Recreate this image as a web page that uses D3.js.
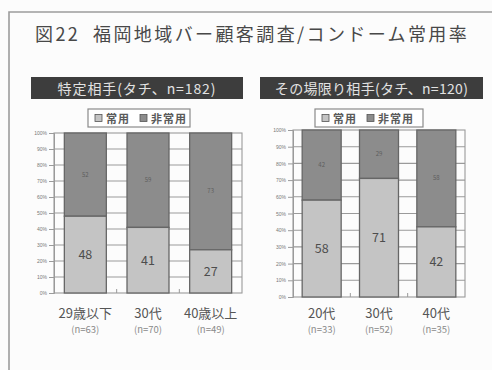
<!DOCTYPE html>
<html>
<head>
<meta charset="utf-8">
<script src="https://cdn.jsdelivr.net/npm/d3@7"></script>
<style>
  html, body { margin: 0; padding: 0; background: #fcfcfc; }
  svg { display: block; font-family: "Noto Sans CJK JP", "Noto Sans", sans-serif; }
</style>
</head>
<body>
<svg id="chart" width="492" height="370"></svg>
<script>
// Survey data: condom use ("常用" = always, "非常用" = not always), percent by age group
const chartTitle = "図22  福岡地域バー顧客調査/コンドーム常用率";
const legendLabels = ["常用", "非常用"];
const yTickValues = [0, 10, 20, 30, 40, 50, 60, 70, 80, 90, 100];
const yTickLabels = ["0%", "10%", "20%", "30%", "40%", "50%", "60%", "70%", "80%", "90%", "100%"];

const leftTitle = "特定相手(タチ、n=182)";
const leftCategories = ["29歳以下", "30代", "40歳以上"];
const leftCounts = ["(n=63)", "(n=70)", "(n=49)"];
const leftRegular = [48, 41, 27];
const leftIrregular = [52, 59, 73];

const rightTitle = "その場限り相手(タチ、n=120)";
const rightCategories = ["20代", "30代", "40代"];
const rightCounts = ["(n=33)", "(n=52)", "(n=35)"];
const rightRegular = [58, 71, 42];
const rightIrregular = [42, 29, 58];

const colors = { regular: "#c4c4c4", irregular: "#8c8c8c", edge: "#666666", grid: "#9a9a9a" };

const svg = d3.select("#chart");

// outer frame (runs off the right and bottom edges)
svg.append("path")
  .attr("d", "M9,380 V12 H500")
  .attr("fill", "none").attr("stroke", "#9c9c9c").attr("stroke-width", 1.6);

svg.append("text")
  .attr("x", 35).attr("y", 41)
  .attr("font-size", 18).attr("letter-spacing", 2.4)
  .attr("fill", "#484848")
  .style("white-space", "pre")
  .text(chartTitle);

function drawPanel(p) {
  const g = svg.append("g");

  // dark header band
  g.append("rect").attr("x", p.headX).attr("y", 77).attr("width", p.headW).attr("height", 22)
    .attr("fill", "#3d3d3d");
  g.append("text").attr("x", p.headX + p.headW / 2).attr("y", 93.5)
    .attr("text-anchor", "middle").attr("font-size", 14).attr("letter-spacing", p.headSpacing)
    .attr("fill", "#e2e2e2").text(p.title);

  // legend box
  const lg = g.append("g").attr("transform", `translate(${p.legX},109)`);
  lg.append("rect").attr("width", p.legW).attr("height", 18)
    .attr("fill", "#ffffff").attr("stroke", "#8a8a8a").attr("stroke-width", 1.2);
  const entries = [
    { label: legendLabels[0], fill: colors.regular },
    { label: legendLabels[1], fill: colors.irregular }
  ];
  let lx = 7;
  entries.forEach((e) => {
    lg.append("rect").attr("x", lx).attr("y", 5.5).attr("width", 7).attr("height", 7)
      .attr("fill", e.fill).attr("stroke", "#555").attr("stroke-width", 0.8);
    const t = lg.append("text").attr("x", lx + 11).attr("y", 13.5)
      .attr("font-size", 11).attr("font-weight", 700).attr("letter-spacing", 1)
      .attr("fill", "#5a5a5a").text(e.label);
    lx += 11 + t.node().getComputedTextLength() + 10;
  });

  const x = d3.scaleBand().domain(p.categories).range([p.x0, p.x1]).paddingInner(p.pad).paddingOuter(p.pad / 2);
  const y = d3.scaleLinear().domain([0, 100]).range([p.y0, p.y1]);

  // horizontal gridlines
  g.append("g").selectAll("line").data(yTickValues.filter(v => v > 0 && v < 100)).join("line")
    .attr("x1", p.x0).attr("x2", p.x1).attr("y1", d => y(d)).attr("y2", d => y(d))
    .attr("stroke", colors.grid).attr("stroke-width", 1.1);

  // plot frame
  g.append("rect").attr("x", p.x0).attr("y", y(100)).attr("width", p.x1 - p.x0).attr("height", y(0) - y(100))
    .attr("fill", "none").attr("stroke", colors.grid).attr("stroke-width", 1.1);

  // y axis with small percent labels
  const yAxis = d3.axisLeft(y).tickValues(yTickValues).tickSize(5).tickPadding(2)
    .tickFormat((d, i) => yTickLabels[i]);
  const ya = g.append("g").attr("transform", `translate(${p.x0},0)`).call(yAxis);
  ya.select(".domain").attr("stroke", colors.grid);
  ya.selectAll(".tick line").attr("stroke", colors.grid);
  ya.selectAll(".tick text").attr("font-size", 5).attr("fill", "#777").attr("font-family", "Liberation Sans, sans-serif");

  // category separator ticks along the baseline
  g.append("g").selectAll("line").data(p.categories.slice(1)).join("line")
    .attr("x1", d => x(d) - x.step() * p.pad / 2).attr("x2", d => x(d) - x.step() * p.pad / 2)
    .attr("y1", y(0)).attr("y2", y(0) - 4)
    .attr("stroke", colors.grid);

  const rows = p.categories.map((c, i) => ({ c, reg: p.regular[i], irr: p.irregular[i], n: p.counts[i] }));

  // stacked bars: 常用 at the bottom, 非常用 on top
  const bars = g.append("g").selectAll("g").data(rows).join("g");
  bars.append("rect")
    .attr("x", d => x(d.c)).attr("width", x.bandwidth())
    .attr("y", d => y(d.reg + d.irr)).attr("height", d => y(d.reg) - y(d.reg + d.irr))
    .attr("fill", colors.irregular).attr("stroke", colors.edge).attr("stroke-width", 1.3);
  bars.append("rect")
    .attr("x", d => x(d.c)).attr("width", x.bandwidth())
    .attr("y", d => y(d.reg)).attr("height", d => y(0) - y(d.reg))
    .attr("fill", colors.regular).attr("stroke", colors.edge).attr("stroke-width", 1.3);

  // value labels
  bars.append("text")
    .attr("x", d => x(d.c) + x.bandwidth() / 2).attr("y", d => y(d.reg / 2) + 4.5)
    .attr("text-anchor", "middle").attr("font-size", 12.5).attr("fill", "#4d4d4d")
    .text(d => d.reg);
  bars.append("text")
    .attr("x", d => x(d.c) + x.bandwidth() / 2).attr("y", d => y(d.reg + d.irr / 2) + 2)
    .attr("text-anchor", "middle").attr("font-size", 6).attr("fill", "#5e5e5e")
    .text(d => d.irr);

  // category labels
  bars.append("text")
    .attr("x", d => x(d.c) + x.bandwidth() / 2).attr("y", 318)
    .attr("text-anchor", "middle").attr("font-size", 13).attr("fill", "#555")
    .text(d => d.c);
  bars.append("text")
    .attr("x", d => x(d.c) + x.bandwidth() / 2).attr("y", 333)
    .attr("text-anchor", "middle").attr("font-size", 9.5).attr("fill", "#8a8a8a")
    .text(d => d.n);
}

drawPanel({
  title: leftTitle, categories: leftCategories, counts: leftCounts,
  regular: leftRegular, irregular: leftIrregular,
  headX: 31, headW: 212, legX: 88, legW: 102, headSpacing: 0.9,
  x0: 54, x1: 242, y0: 293, y1: 133, pad: 0.33
});

drawPanel({
  title: rightTitle, categories: rightCategories, counts: rightCounts,
  regular: rightRegular, irregular: rightIrregular,
  headX: 260, headW: 223, legX: 315, legW: 108, headSpacing: 0.3,
  x0: 293, x1: 465, y0: 297, y1: 130, pad: 0.32
});
</script>
</body>
</html>
